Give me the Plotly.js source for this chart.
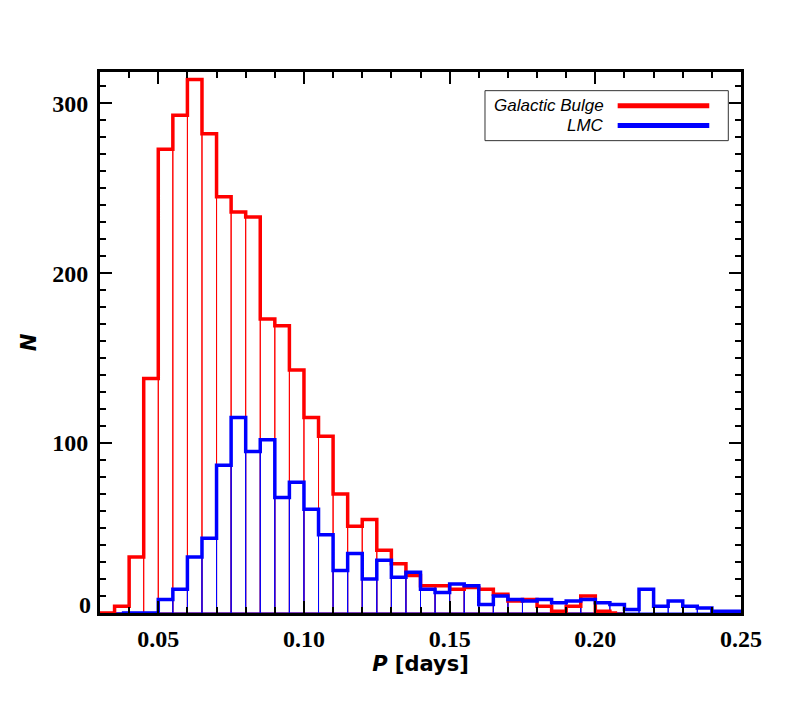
<!DOCTYPE html>
<html>
<head>
<meta charset="utf-8">
<script src="https://cdn.plot.ly/plotly-3.0.1.min.js"></script>
<style>html,body{margin:0;padding:0;background:#fff;}</style>
</head>
<body>
<div id="chart" style="width:802px;height:702px;"></div>
<script>
// Bin centres (bin width 0.005 days)
const periodBins = [0.0275, 0.0325, 0.0375, 0.0425, 0.0475, 0.0525, 0.0575, 0.0625, 0.0675, 0.0725,
  0.0775, 0.0825, 0.0875, 0.0925, 0.0975, 0.1025, 0.1075, 0.1125, 0.1175, 0.1225,
  0.1275, 0.1325, 0.1375, 0.1425, 0.1475, 0.1525, 0.1575, 0.1625, 0.1675, 0.1725,
  0.1775, 0.1825, 0.1875, 0.1925, 0.1975, 0.2025, 0.2075, 0.2125, 0.2175, 0.2225,
  0.2275, 0.2325, 0.2375, 0.2425, 0.2475, 0.2525];

const bulgeCounts = [0, 0, 4, 33, 138, 273, 293, 314, 282, 245,
  236, 233, 173, 169, 143, 115, 104, 70, 51, 55,
  37, 29, 22, 16, 16, 14, 15, 14, 11, 7,
  8, 4, 1, 4, 10, 1, 0, null, null, null,
  null, null, null, null, null, null];

const lmcCounts = [null, null, 0, 0, 0, 8, 14, 33, 44, 87,
  115, 95, 102, 68, 77, 61, 46, 25, 35, 20,
  31, 21, 24, 14, 12, 17, 16, 5, 10, 8,
  7, 8, 6, 7, 8, 6, 5, 2, 14, 4,
  7, 4, 3, 1, 1, 1];

const seriesNames = ['Galactic Bulge', 'LMC'];
const xTickVals = [0.05, 0.10, 0.15, 0.20, 0.25];
const xTickText = ['0.05', '0.10', '0.15', '0.20', '0.25'];
const yTickVals = [0, 100, 200, 300];
const yTickText = ['', '100', '200', '300'];

const RED = '#ff0000', BLUE = '#0000ff';
const binWidth = 0.005;

const traces = [
  { type: 'bar', x: periodBins, y: bulgeCounts, width: binWidth,
    marker: { color: 'rgba(0,0,0,0)', line: { color: RED, width: 1 } }, hoverinfo: 'skip' },
  { type: 'bar', x: periodBins, y: lmcCounts, width: binWidth,
    marker: { color: 'rgba(0,0,0,0)', line: { color: BLUE, width: 1 } }, hoverinfo: 'skip' },
  { type: 'scatter', mode: 'lines', name: seriesNames[0], x: periodBins, y: bulgeCounts,
    line: { shape: 'hvh', color: RED, width: 3.5 }, connectgaps: false },
  { type: 'scatter', mode: 'lines', name: seriesNames[1], x: periodBins, y: lmcCounts,
    line: { shape: 'hvh', color: BLUE, width: 3.5 }, connectgaps: false }
];

const tickFont = { family: 'Liberation Serif, Times New Roman, serif', size: 24, color: '#000', weight: 'bold' };
const titleFont = { family: 'DejaVu Sans, sans-serif', size: 21, color: '#000', weight: 'bold' };

// legend geometry in paper coordinates
const lgX0 = 0.6006, lgX1 = 0.9802, lgY0 = 0.8731, lgY1 = 0.9655;
const lgTextX = 0.7894, lgLineX0 = 0.8076, lgLineX1 = 0.9505;
const lgRowY = [0.9378, 0.9009];
const lgColors = [RED, BLUE];

const shapes = [
  { type: 'rect', xref: 'paper', yref: 'paper', x0: lgX0, x1: lgX1, y0: lgY0, y1: lgY1,
    line: { color: '#333', width: 1 }, fillcolor: 'white', layer: 'above' }
];
const annotations = [];
seriesNames.forEach((nm, i) => {
  shapes.push({ type: 'line', xref: 'paper', yref: 'paper', x0: lgLineX0, x1: lgLineX1,
    y0: lgRowY[i], y1: lgRowY[i], line: { color: lgColors[i], width: 5 }, layer: 'above' });
  annotations.push({ xref: 'paper', yref: 'paper', x: lgTextX, y: lgRowY[i], xanchor: 'right', yanchor: 'middle',
    text: '<i>' + nm + '</i>', showarrow: false,
    font: { family: 'Liberation Sans, Arial, sans-serif', size: 17, color: '#000' } });
});
// zero label on the y axis (sits slightly above the corner as in the original)
annotations.push({ xref: 'paper', yref: 'y', x: 0, y: 0, xanchor: 'right', yanchor: 'middle',
  xshift: -7, yshift: 8, text: '0', showarrow: false, font: tickFont });

const layout = {
  width: 802, height: 702,
  margin: { l: 100, r: 61, t: 72, b: 88.5, pad: 0 },
  paper_bgcolor: '#fff', plot_bgcolor: '#fff',
  showlegend: false,
  barmode: 'overlay', bargap: 0,
  xaxis: {
    range: [0.03, 0.25], tickmode: 'array', tickvals: xTickVals, ticktext: xTickText,
    ticks: 'inside', ticklen: 12, tickwidth: 2, tickcolor: '#000',
    showline: true, linewidth: 3, linecolor: '#000', mirror: 'ticks',
    showgrid: false, zeroline: false, tickfont: tickFont, ticklabelstandoff: 2,
    minor: { tickmode: 'linear', tick0: 0, dtick: 0.01, ticks: 'inside', ticklen: 6, tickwidth: 2, tickcolor: '#000', showgrid: false },
    title: { text: '<i>P</i> [days]', font: titleFont, standoff: 2 }
  },
  yaxis: {
    range: [0, 318.4], tickmode: 'array', tickvals: yTickVals, ticktext: yTickText,
    ticks: 'inside', ticklen: 12, tickwidth: 2, tickcolor: '#000',
    showline: true, linewidth: 3, linecolor: '#000', mirror: 'ticks',
    showgrid: false, zeroline: false, tickfont: tickFont, ticklabelstandoff: 4,
    minor: { tickmode: 'linear', tick0: 0, dtick: 10, ticks: 'inside', ticklen: 6, tickwidth: 2, tickcolor: '#000', showgrid: false },
    title: { text: '<i>N</i>', font: titleFont, standoff: 10 }
  },
  shapes: shapes,
  annotations: annotations
};

Plotly.newPlot('chart', traces, layout, { staticPlot: true, displayModeBar: false });
</script>
</body>
</html>
